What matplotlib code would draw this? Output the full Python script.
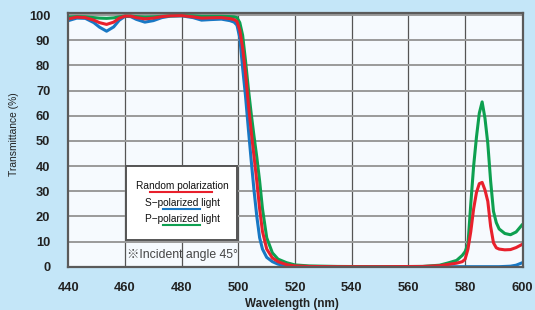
import matplotlib
matplotlib.use("Agg")
import matplotlib.pyplot as plt
from matplotlib.patches import Rectangle

plt.rcParams['font.family'] = ['Liberation Sans', 'Noto Sans CJK JP', 'DejaVu Sans']

# wavelength (nm) and transmittance (%)
wl = [440, 443, 446, 449, 451, 453.5, 456, 458, 460, 462,
      464, 467, 470, 473, 476, 480, 484, 487, 490, 494,
      497, 498.5, 499.5, 500.5, 501.5, 502.5, 503.5, 504.5, 505.5, 506.5,
      507.5, 508.5, 510, 512, 514, 517, 520, 525, 535, 550,
      565, 571, 574, 577, 579, 580, 581, 582, 583, 584,
      585, 586, 587, 588, 589, 590, 591, 592, 594, 596,
      598, 600]

s_pol = [97.8, 98.8, 98.7, 97.0, 95.2, 93.6, 95.3, 98.0, 99.5, 99.4,
         98.3, 97.2, 97.8, 99.0, 99.6, 99.7, 99.0, 98.0, 98.2, 98.4,
         97.8, 97.2, 96.0, 91, 79, 68, 55, 42.5, 30.5, 20,
         11.5, 7, 3.7, 2.0, 1.0, 0.3, 0.1, 0, 0, 0,
         0, 0, 0, 0, 0, 0, 0, 0, 0, 0,
         0, 0, 0, 0, 0, 0, 0, 0, 0.1, 0.2,
         0.6, 1.5]

random_pol = [98.5, 99.2, 99.0, 98.0, 97.0, 96.3, 97.2, 98.8, 99.6, 99.6,
              99.0, 98.5, 98.8, 99.4, 99.7, 99.8, 99.3, 98.8, 98.9, 99.0,
              98.6, 98.2, 97.5, 94, 87, 77, 65, 54, 44, 34,
              23, 14, 7, 3.5, 2.0, 0.8, 0.3, 0.1, 0, 0,
              0.1, 0.4, 0.9, 1.4, 2.0, 3.0, 7, 14, 23, 29.5,
              33, 33.5, 30.5, 26, 16, 9.5, 7.5, 7.0, 6.7, 6.8,
              7.6, 8.8]

p_pol = [99.2, 99.4, 99.3, 99.0, 98.8, 98.7, 98.9, 99.3, 99.6, 99.6,
         99.4, 99.2, 99.3, 99.5, 99.7, 99.8, 99.7, 99.5, 99.5, 99.5,
         99.4, 99.3, 99.0, 97, 92, 82, 71, 61, 52, 43.5,
         34, 23, 11.5, 5.5, 3.0, 1.6, 0.7, 0.3, 0.1, 0,
         0.1, 0.6, 1.5, 2.5, 4.5, 6, 9, 25, 40, 51.5,
         61, 65.5, 59, 49, 34, 22, 17.5, 15, 13.2, 12.7,
         13.8, 16.5]

xticks = [440, 460, 480, 500, 520, 540, 560, 580, 600]
yticks = [0, 10, 20, 30, 40, 50, 60, 70, 80, 90, 100]

blue = '#1878c4'
red = '#e8202c'
green = '#0ea050'

fig = plt.figure(figsize=(5.35, 3.10), dpi=100)
fig.patch.set_facecolor('#c4e6f8')
ax = fig.add_axes([0.1277, 0.1397, 0.8503, 0.8173])
ax.set_facecolor('#f6fafe')

ax.set_xlim(440, 600.5)
ax.set_ylim(0, 100.7)
ax.set_xticks(xticks)
ax.set_yticks(yticks)

for x in xticks[1:-1]:
    ax.axvline(x, color='#555555', lw=0.9, zorder=1)
for y in yticks[1:]:
    ax.axhline(y, color='#9a9a9a', lw=1.4, zorder=1)

ax.plot(wl, s_pol, color=blue, lw=2.2, solid_joinstyle='round', zorder=3)
ax.plot(wl, p_pol, color=green, lw=2.2, solid_joinstyle='round', zorder=4)
ax.plot(wl, random_pol, color=red, lw=2.2, solid_joinstyle='round', zorder=5)

for sp in ax.spines.values():
    sp.set_color('#5a5a5a')
    sp.set_linewidth(1.6)
    sp.set_zorder(6)

ax.tick_params(length=0, labelsize=9.3, colors='#222222')
ax.tick_params(axis='x', pad=11)
ax.tick_params(axis='y', pad=13)
for lab in ax.get_xticklabels() + ax.get_yticklabels():
    lab.set_fontweight('bold')

ax.set_xlabel('Wavelength (nm)', fontsize=8.4, fontweight='bold', color='#222222')
ax.xaxis.label.set_va('center')
ax.xaxis.set_label_coords(0.4905, -0.147)
ax.set_ylabel('Transmittance (%)', fontsize=7.4, color='#222222')
ax.yaxis.label.set_va('center')
ax.yaxis.set_label_coords(-0.119, 0.524)

# legend box
ax.add_patch(Rectangle((0.126, 0.105), 0.245, 0.293, transform=ax.transAxes,
                       facecolor='white', edgecolor='#555555', lw=1.4, zorder=7))
leg_font = dict(transform=ax.transAxes, ha='center', va='center', fontsize=7.3,
                color='#111111', zorder=8)
ax.text(0.25, 0.319, 'Random polarization', **leg_font)
ax.text(0.25, 0.253, 'S\u2212polarized light', **leg_font)
ax.text(0.25, 0.188, 'P\u2212polarized light', **leg_font)
ax.plot([0.179, 0.315], [0.294, 0.294], transform=ax.transAxes, color=red, lw=1.5, zorder=8)
ax.plot([0.209, 0.289], [0.228, 0.228], transform=ax.transAxes, color=blue, lw=1.5, zorder=8)
ax.plot([0.209, 0.289], [0.166, 0.166], transform=ax.transAxes, color=green, lw=1.5, zorder=8)
ax.text(0.25, 0.048, '\u203bIncident angle 45\u00b0', transform=ax.transAxes, ha='center',
        va='center', fontsize=8.8, color='#444444', zorder=8)

fig.savefig('out.png', dpi=100, facecolor=fig.get_facecolor())
